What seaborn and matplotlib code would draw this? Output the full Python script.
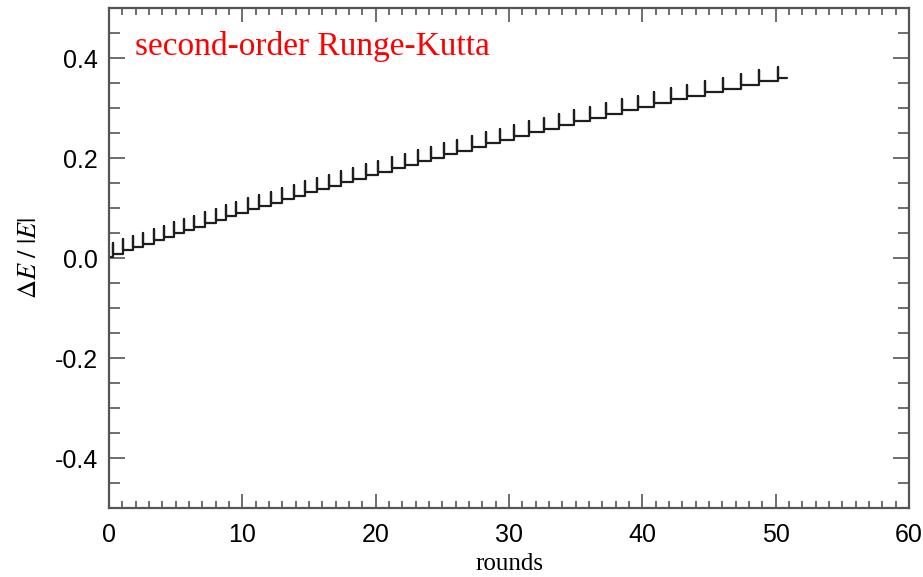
import numpy as np
import pandas as pd
import matplotlib
matplotlib.use("Agg")
import matplotlib.pyplot as plt
import seaborn as sns
from matplotlib.ticker import MultipleLocator

# ---- data ----
start_round = 0.0
start_level = 0.002
end_round = 50.84

spike_rounds = [0.29, 1.04, 1.79, 2.54, 3.36, 4.11, 4.86, 5.62, 6.37, 7.17,
                8.00, 8.75, 9.55, 10.42, 11.25, 12.12, 12.97, 13.85, 14.73, 15.60,
                16.50, 17.38, 18.30, 19.26, 20.18, 21.19, 22.18, 23.14, 24.14, 25.14,
                26.11, 27.19, 28.27, 29.32, 30.39, 31.49, 32.62, 33.77, 34.87, 36.07,
                37.25, 38.45, 39.65, 40.90, 42.15, 43.38, 44.71, 46.04, 47.41, 48.78,
                50.17]

level_after = [0.009, 0.016, 0.022, 0.029, 0.036, 0.043, 0.050, 0.057, 0.063, 0.070,
               0.077, 0.084, 0.091, 0.098, 0.104, 0.111, 0.118, 0.125, 0.132, 0.138,
               0.145, 0.152, 0.159, 0.166, 0.173, 0.180, 0.187, 0.194, 0.201, 0.208,
               0.215, 0.222, 0.230, 0.237, 0.244, 0.252, 0.259, 0.266, 0.274, 0.281,
               0.288, 0.296, 0.303, 0.310, 0.318, 0.325, 0.332, 0.339, 0.347, 0.354,
               0.361]

spike_peak = [0.031, 0.038, 0.044, 0.051, 0.058, 0.065, 0.072, 0.079, 0.085, 0.092,
              0.099, 0.106, 0.113, 0.120, 0.126, 0.133, 0.140, 0.147, 0.154, 0.160,
              0.167, 0.174, 0.181, 0.188, 0.195, 0.202, 0.209, 0.216, 0.223, 0.230,
              0.237, 0.244, 0.252, 0.259, 0.266, 0.274, 0.281, 0.288, 0.296, 0.303,
              0.310, 0.318, 0.325, 0.332, 0.340, 0.347, 0.354, 0.361, 0.369, 0.376,
              0.383]

x_ticks = [0, 10, 20, 30, 40, 50, 60]
y_ticks = [-0.4, -0.2, 0.0, 0.2, 0.4]
y_tick_labels = ["-0.4", "-0.2", "0.0", "0.2", "0.4"]
title_text = "second-order Runge-Kutta"
x_label = "rounds"
y_label = r"$\Delta E\ /\ |E|$"

# ---- build the trajectory ----
xs, ys = [start_round], [start_level]
prev = start_level
for t, pk, lv in zip(spike_rounds, spike_peak, level_after):
    xs += [t, t, t]
    ys += [prev, pk, lv]
    prev = lv
xs.append(end_round)
ys.append(prev)
df = pd.DataFrame({"rounds": xs, "dE": ys, "order": np.arange(len(xs))})

# ---- plot ----
sns.set_style("ticks")
plt.rcParams["font.family"] = ["Liberation Sans", "DejaVu Sans"]
plt.rcParams["mathtext.fontset"] = "stix"
plt.rcParams["text.color"] = "black"
plt.rcParams["axes.labelcolor"] = "black"
plt.rcParams["xtick.labelcolor"] = "black"
plt.rcParams["ytick.labelcolor"] = "black"

fig = plt.figure(figsize=(9.23, 5.77), dpi=100)
ax = fig.add_axes([109 / 923, 1 - 508 / 577, 800 / 923, 500 / 577])

sns.lineplot(data=df, x="rounds", y="dE", sort=False, estimator=None,
             color="#1e1e1e", linewidth=1.6, ax=ax)

ax.set_xlim(0, 60)
ax.set_ylim(-0.5, 0.5)
ax.set_xticks(x_ticks)
ax.set_xticklabels([str(v) for v in x_ticks])
ax.set_yticks(y_ticks)
ax.set_yticklabels(y_tick_labels)
ax.xaxis.set_minor_locator(MultipleLocator(1))
ax.yaxis.set_minor_locator(MultipleLocator(0.05))

for sp in ax.spines.values():
    sp.set_visible(True)
    sp.set_color("#555555")
    sp.set_linewidth(1.6)

ax.tick_params(axis="both", which="both", direction="in", top=True, right=True,
               color="#555555", width=1.2)
ax.tick_params(axis="x", which="major", length=14 / 1.389, labelsize=18, pad=11)
ax.tick_params(axis="x", which="minor", length=7 / 1.389)
ax.tick_params(axis="y", which="major", length=16 / 1.389, labelsize=18, pad=8)
ax.tick_params(axis="y", which="minor", length=11 / 1.389)

ax.set_xlabel(x_label, family="Liberation Serif", fontsize=18, labelpad=4)
ax.set_ylabel(y_label, fontsize=19, labelpad=10)

ax.text(1.95, 0.405, title_text, color="red", family="Liberation Serif",
        fontsize=24, va="baseline", ha="left")

fig.savefig("out.png", dpi=100)
